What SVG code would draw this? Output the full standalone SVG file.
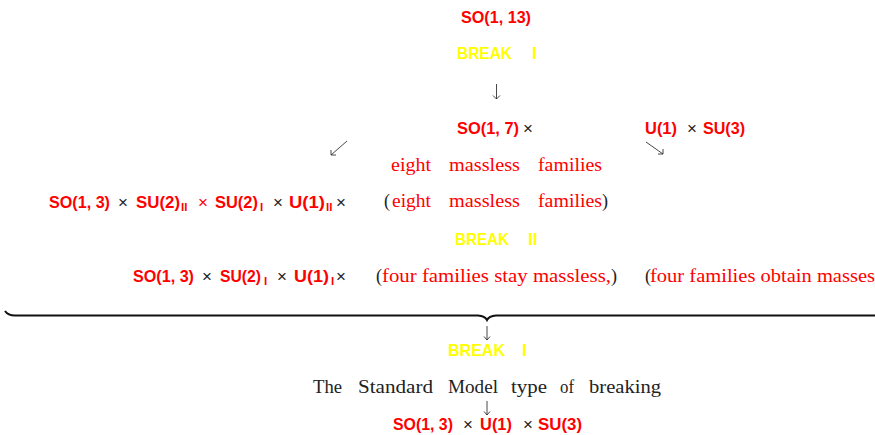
<svg xmlns="http://www.w3.org/2000/svg" width="875" height="435" viewBox="0 0 875 435">
<style>
.m{font-family:"Liberation Sans",Arial,sans-serif;font-weight:bold;font-size:17px;fill:#ff0000}
.y{font-family:"Liberation Sans",Arial,sans-serif;font-weight:bold;font-size:17px;fill:#ffff00}
.x{font-family:"Liberation Sans",Arial,sans-serif;font-weight:normal;font-size:17px;fill:#222}
.xr{font-family:"Liberation Sans",Arial,sans-serif;font-weight:normal;font-size:17px;fill:#ff0000}
.s{font-size:11.5px}
.r{font-family:"Liberation Serif","Times New Roman",serif;font-size:18px;fill:#ff0000}
.k{font-family:"Liberation Serif","Times New Roman",serif;font-size:18px;fill:#222}
.c{fill:none;stroke:#333;stroke-width:0.9}
.br{fill:none;stroke:#111;stroke-width:2}
</style>
<rect width="875" height="435" fill="#fff"/>
<g id="connectors">
<path class="c" d="M496.5,84 V99 M493,95.5 L496.5,99 L500,95.5"/>
<path class="c" d="M347,141 L331,155 M331,150 L331,155 L336,155"/>
<path class="c" d="M646,142 L663,154 M663,149 L663,154 L658,154"/>
<path class="br" d="M5,311 Q8,315.5 15,315.5 L478,315.5 Q485,316 487,320 Q489,316 496,315.5 L875,315.5"/>
<path class="c" d="M487,326 V340 M484,336.5 L487,340 L490,336.5"/>
<path class="c" d="M487,401 V415 M484,411.5 L487,415 L490,411.5"/>
</g>
<g id="so113"><text class="m" x="461" y="23" textLength="70" lengthAdjust="spacingAndGlyphs">SO(1, 13)</text></g>
<g id="break1"><text class="y" y="59"><tspan x="457" textLength="55" lengthAdjust="spacingAndGlyphs">BREAK</tspan><tspan x="532">I</tspan></text></g>
<g id="so17"><text y="134"><tspan class="m" x="457" textLength="62" lengthAdjust="spacingAndGlyphs">SO(1, 7)</tspan><tspan class="x" x="523">×</tspan></text></g>
<g id="u1su3"><text y="134"><tspan class="m" x="645" textLength="32" lengthAdjust="spacingAndGlyphs">U(1)</tspan><tspan class="x" x="687">×</tspan><tspan class="m" x="703" textLength="42" lengthAdjust="spacingAndGlyphs">SU(3)</tspan></text></g>
<g id="eight1"><text class="r" y="171"><tspan x="391" textLength="40" lengthAdjust="spacingAndGlyphs">eight</tspan><tspan x="449" textLength="71" lengthAdjust="spacingAndGlyphs">massless</tspan><tspan x="538" textLength="64" lengthAdjust="spacingAndGlyphs">families</tspan></text></g>
<g id="row1">
<text y="208"><tspan class="m" x="49" textLength="61" lengthAdjust="spacingAndGlyphs">SO(1, 3)</tspan><tspan class="x" x="118">×</tspan><tspan class="m" x="136" textLength="44" lengthAdjust="spacingAndGlyphs">SU(2)</tspan><tspan class="m s" x="181" y="211">II</tspan><tspan class="xr" x="198" y="208">×</tspan><tspan class="m" x="215" textLength="43" lengthAdjust="spacingAndGlyphs">SU(2)</tspan><tspan class="m s" x="260" y="211">I</tspan><tspan class="x" x="273" y="208">×</tspan><tspan class="m" x="289" textLength="36" lengthAdjust="spacingAndGlyphs">U(1)</tspan><tspan class="m s" x="326" y="211">II</tspan><tspan class="x" x="336" y="208">×</tspan></text>
</g>
<g id="eight2"><text y="207"><tspan class="k" x="384">(</tspan><tspan class="r" x="392" textLength="39" lengthAdjust="spacingAndGlyphs">eight</tspan><tspan class="r" x="449" textLength="71" lengthAdjust="spacingAndGlyphs">massless</tspan><tspan class="r" x="538" textLength="64" lengthAdjust="spacingAndGlyphs">families</tspan><tspan class="k" x="602">)</tspan></text></g>
<g id="break2"><text class="y" y="245"><tspan x="455" textLength="54" lengthAdjust="spacingAndGlyphs">BREAK</tspan><tspan x="528">II</tspan></text></g>
<g id="row2">
<text y="282"><tspan class="m" x="133" textLength="61" lengthAdjust="spacingAndGlyphs">SO(1, 3)</tspan><tspan class="x" x="202">×</tspan><tspan class="m" x="220" textLength="41" lengthAdjust="spacingAndGlyphs">SU(2)</tspan><tspan class="m s" x="264" y="285">I</tspan><tspan class="x" x="277" y="282">×</tspan><tspan class="m" x="294" textLength="35" lengthAdjust="spacingAndGlyphs">U(1)</tspan><tspan class="m s" x="331" y="285">I</tspan><tspan class="x" x="336" y="282">×</tspan></text>
</g>
<g id="four1"><text y="282"><tspan class="k" x="376">(</tspan><tspan class="r" x="382" textLength="229" lengthAdjust="spacingAndGlyphs">four families stay massless,</tspan><tspan class="k" x="611">)</tspan></text></g>
<g id="four2"><text y="282"><tspan class="k" x="645">(</tspan><tspan class="r" x="650" textLength="225" lengthAdjust="spacingAndGlyphs">four families obtain masses</tspan></text></g>
<g id="break3"><text class="y" y="356"><tspan x="448" textLength="57" lengthAdjust="spacingAndGlyphs">BREAK</tspan><tspan x="522">I</tspan></text></g>
<g id="sm"><text class="k" y="393"><tspan x="313" textLength="29" lengthAdjust="spacingAndGlyphs">The</tspan><tspan x="358" textLength="75" lengthAdjust="spacingAndGlyphs">Standard</tspan><tspan x="448" textLength="50" lengthAdjust="spacingAndGlyphs">Model</tspan><tspan x="511" textLength="36" lengthAdjust="spacingAndGlyphs">type</tspan><tspan x="560" textLength="14" lengthAdjust="spacingAndGlyphs">of</tspan><tspan x="589" textLength="72" lengthAdjust="spacingAndGlyphs">breaking</tspan></text></g>
<g id="final"><text y="430"><tspan class="m" x="393" textLength="60" lengthAdjust="spacingAndGlyphs">SO(1, 3)</tspan><tspan class="x" x="463">×</tspan><tspan class="m" x="480" textLength="32" lengthAdjust="spacingAndGlyphs">U(1)</tspan><tspan class="x" x="523">×</tspan><tspan class="m" x="538" textLength="44" lengthAdjust="spacingAndGlyphs">SU(3)</tspan></text></g>
</svg>
